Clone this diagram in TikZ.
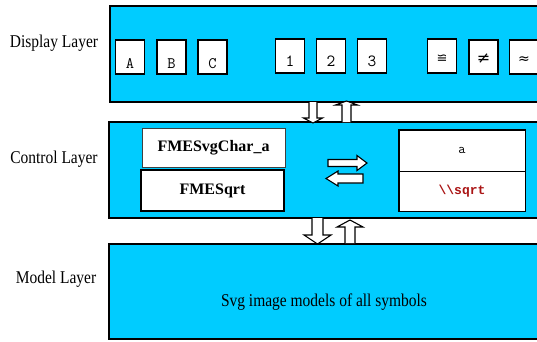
\documentclass[tikz,border=0pt]{standalone}
\usepackage{fontspec}
\setmainfont{Liberation Serif}
\newfontfamily\cond[FakeStretch=0.86]{Liberation Serif}
\newfontfamily\monof{Liberation Mono}
\newfontfamily\symfont{DejaVu Sans}
\definecolor{skyc}{RGB}{0,204,255}
\definecolor{sqred}{RGB}{170,20,20}
\newcommand\blockdown[6]{% cx, ytop, ybot, shaft half, head half, head len
  \draw[barr] (#1-#4,#2) -- (#1-#4,#3-#6) -- (#1-#5,#3-#6) -- (#1,#3) -- (#1+#5,#3-#6) -- (#1+#4,#3-#6) -- (#1+#4,#2);}
\newcommand\blockup[6]{% cx, ybot, ytop, shaft half, head half, head len
  \draw[barr] (#1-#4,#2) -- (#1-#4,#3+#6) -- (#1-#5,#3+#6) -- (#1,#3) -- (#1+#5,#3+#6) -- (#1+#4,#3+#6) -- (#1+#4,#2);}
\newcommand\blockright[6]{% cy, xleft, xright, shaft half, head half, head len
  \draw[barr] (#2,#1-#4) -- (#3-#6,#1-#4) -- (#3-#6,#1-#5) -- (#3,#1) -- (#3-#6,#1+#5) -- (#3-#6,#1+#4) -- (#2,#1+#4) -- cycle;}
\newcommand\blockleft[6]{% cy, xright, xleft, shaft half, head half, head len
  \draw[barr] (#2,#1-#4) -- (#3+#6,#1-#4) -- (#3+#6,#1-#5) -- (#3,#1) -- (#3+#6,#1+#5) -- (#3+#6,#1+#4) -- (#2,#1+#4) -- cycle;}
\tikzset{
  lay/.style={draw=black, line width=1.3pt, fill=skyc, inner sep=0pt},
  sym/.style={draw=black, line width=1.7pt, fill=white, inner sep=0pt,
     minimum width=29pt, minimum height=34pt},
  laylabel/.style={anchor=base, inner sep=0pt, font=\cond\fontsize{18}{20}\selectfont},
  cbox/.style={draw=black, fill=white, inner sep=0pt, minimum width=143pt,
     font=\bfseries\fontsize{16}{18}\selectfont},
  rbox/.style={draw=black, line width=0.8pt, fill=white, inner sep=0pt, minimum width=126pt},
  barr/.style={draw=black, line width=1.1pt, fill=white, line join=miter}
}
\newcommand\lowtext[2]{\raisebox{#1}[0pt][0pt]{#2}}
\begin{document}
\begin{tikzpicture}[x=1pt,y=-1pt]
\useasboundingbox (0,0) rectangle (537,341);
\clip (0,0) rectangle (537,341);
% layers
\node[lay, minimum width=440pt, minimum height=96pt] (disp) at (330,54) {};
\node[lay, minimum width=442pt, minimum height=96pt] (ctrl) at (330,170) {};
\node[lay, minimum width=442pt, minimum height=95pt] (model) at (330,291.5) {};
% labels
\node[laylabel] (ldisp) at (54,47) {Display Layer};
\node[laylabel] (lctrl) at (54,163) {Control Layer};
\node[laylabel] (lmodel) at (56,283) {Model Layer};
% display symbols
\foreach \n/\cx/\t in {sa/130/A, sb/171.5/B, sc/212.5/C}
  \node[sym, font=\ttfamily\fontsize{16}{16}\selectfont] (\n) at (\cx,57) {\lowtext{-11pt}{\t}};
\foreach \n/\cx/\t in {s1/290/1, s2/331/2, s3/372/3}
  \node[sym, font=\ttfamily\fontsize{17}{17}\selectfont] (\n) at (\cx,56) {\lowtext{-10pt}{\t}};
\node[sym, font=\symfont\fontsize{13}{13}\selectfont] (s4) at (442,56) {\lowtext{-6pt}{≌}};
\node[sym, font=\symfont\fontsize{16}{16}\selectfont] (s5) at (483.5,57) {\lowtext{-6pt}{≠}};
\node[sym, font=\symfont\fontsize{14}{14}\selectfont] (s6) at (524,57) {\lowtext{-6pt}{≈}};
% control inner boxes
\node[cbox, line width=0.7pt, draw=black!75, minimum height=39pt] (fchar) at (213.5,147.5) {FMESvgChar\_a};
\node[cbox, line width=1.8pt, minimum height=41pt] (fsqrt) at (212.5,190.5) {FMESqrt};
\node[rbox, minimum height=41pt, font=\ttfamily\fontsize{14}{14}\selectfont] (ra) at (462,150.5) {a};
\node[rbox, minimum height=40pt, font=\monof\bfseries\fontsize{13}{13}\selectfont, text=sqred] (rsqrt) at (462,191) {\textbackslash\textbackslash sqrt};
\draw[line width=1.8pt] (ra.north west) rectangle (rsqrt.south east);
% arrows between layers
\blockdown{313}{102}{123}{4}{9.5}{5}
\blockup{346.5}{122}{101}{4.5}{11}{4}
\blockdown{317.5}{218}{244}{5.5}{13.5}{9}
\blockup{350}{243}{220}{5}{13}{7}
% exchange arrows
\blockright{163}{328}{367}{3.5}{7.5}{10}
\blockleft{178.5}{363}{326}{4.5}{7.5}{12}
% model text
\node[anchor=base, inner sep=0pt, font=\cond\fontsize{18}{20}\selectfont] (mtext) at (324,306) {Svg image models of all symbols};
\end{tikzpicture}
\end{document}
